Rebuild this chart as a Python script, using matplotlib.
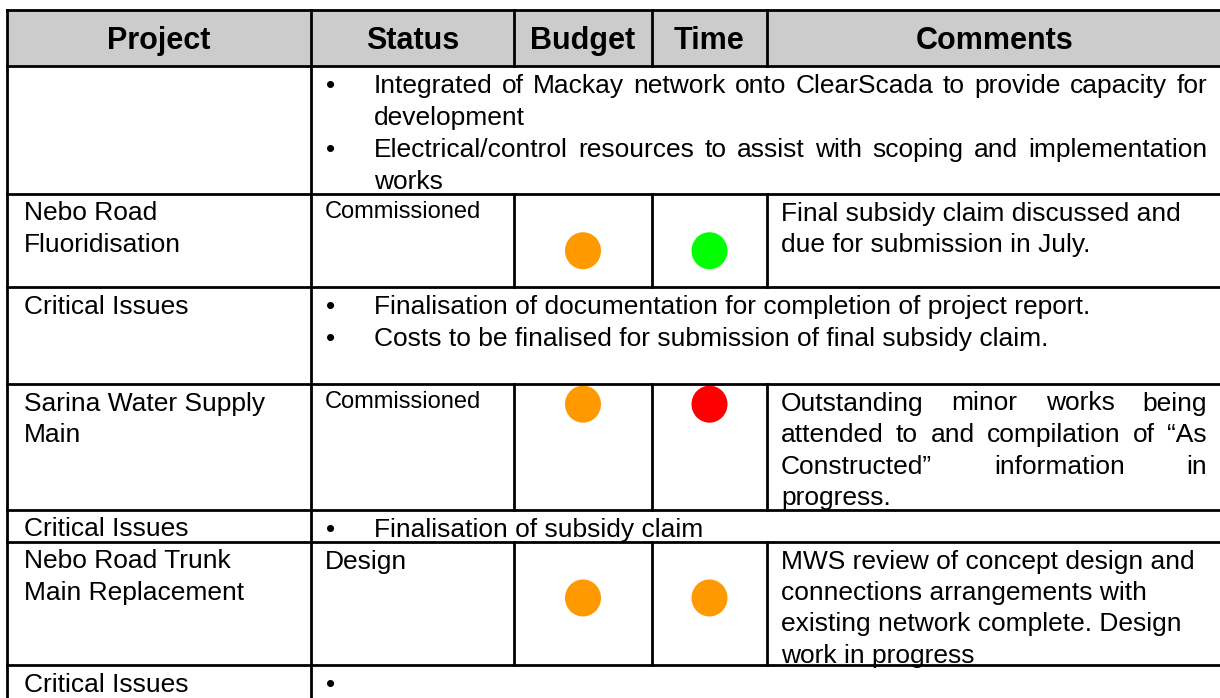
import matplotlib.pyplot as plt
from matplotlib.patches import Rectangle, Ellipse

plt.rcParams['font.family'] = ['Liberation Sans', 'DejaVu Sans']

# table content
headers = ["Project", "Status", "Budget", "Time", "Comments"]
projects = ["", "Nebo Road\nFluoridisation", "Critical Issues",
            "Sarina Water Supply\nMain", "Critical Issues",
            "Nebo Road Trunk\nMain Replacement", "Critical Issues"]
status = [None, "Commissioned", None, "Commissioned", None, "Design", None]
budget = [None, "orange", None, "orange", None, "orange", None]
time = [None, "green", None, "red", None, "orange", None]
comments = [
    None,
    ["Final subsidy claim discussed and", "due for submission in July."],
    None,
    ["Outstanding minor works being", "attended to and compilation of \u201cAs",
     "Constructed\u201d information in", "progress."],
    None,
    ["MWS review of concept design and", "connections arrangements with",
     "existing network complete. Design", "work in progress"],
    None,
]
bullets = [
    [["Integrated of Mackay network onto ClearScada to provide capacity for", "development"],
     ["Electrical/control resources to assist with scoping and implementation", "works"]],
    None,
    [["Finalisation of documentation for completion of project report."],
     ["Costs to be finalised for submission of final subsidy claim."]],
    None,
    [["Finalisation of subsidy claim"]],
    None,
    [[""]],
]
justify_comments = [False, False, False, True, False, False, False]

# layout (pixels)
col_x = [7, 311, 514, 652, 767, 1223]
row_y = [10, 66, 194, 287, 384, 510, 542, 665, 740]
dot_pos = [None, 0.61, None, 0.16, None, 0.455, None]
dot_colors = {"orange": "#FF9900", "green": "#00FF00", "red": "#FF0000"}
body = 19
line_h = 31.5
lw = 2.0

fig = plt.figure(figsize=(12.2, 6.98), dpi=100)
ax = fig.add_axes([0, 0, 1, 1])
ax.set_xlim(0, 1220)
ax.set_ylim(698, 0)
ax.axis('off')
renderer = fig.canvas.get_renderer()


def put_line(x0, x1, y, text, size=body, justify=False):
    if not justify or ' ' not in text:
        ax.text(x0, y, text, fontsize=size, va='baseline', ha='left')
        return
    words = text.split()
    objs = [ax.text(x0, y, w, fontsize=size, va='baseline', ha='left') for w in words]
    widths = [o.get_window_extent(renderer).width for o in objs]
    gap = (x1 - x0 - sum(widths)) / (len(words) - 1)
    x = x0
    for o, w in zip(objs, widths):
        o.set_x(x)
        x += w + gap


# header
ax.add_patch(Rectangle((col_x[0], row_y[0]), col_x[-1] - col_x[0], row_y[1] - row_y[0],
                       facecolor='#CCCCCC', edgecolor='none'))
for i, h in enumerate(headers):
    ax.text((col_x[i] + col_x[i + 1]) / 2, row_y[0] + 39, h, fontsize=22,
            fontweight='bold', ha='center', va='baseline')

for r in range(len(projects)):
    top = row_y[r + 1]
    bot = row_y[r + 2]
    for k, ln in enumerate(projects[r].split('\n')):
        put_line(24, 300, top + 26.5 + k * line_h, ln)
    if bullets[r] is not None:
        n = 0
        for para in bullets[r]:
            ax.text(331, top + 27 + n * 32, "\u2022", fontsize=body, ha='center', va='baseline')
            for j, ln in enumerate(para):
                last = j == len(para) - 1
                put_line(374, 1207, top + 27 + n * 32, ln, justify=not last)
                n += 1
    else:
        st = status[r]
        size = 17 if st == "Commissioned" else body
        ax.text(325, top + (23.5 if size == 17 else 26.5), st, fontsize=size, va='baseline')
        cy = top + dot_pos[r] * (bot - top)
        for c, key in ((2, budget[r]), (3, time[r])):
            cx = (col_x[c] + col_x[c + 1]) / 2
            ax.add_patch(Ellipse((cx, cy), 36, 37, facecolor=dot_colors[key], edgecolor='none'))
        lines = comments[r]
        for k, ln in enumerate(lines):
            last = k == len(lines) - 1
            put_line(781, 1207, top + 26.5 + k * line_h, ln,
                     justify=justify_comments[r] and not last)

# grid lines
for y in row_y[:-1]:
    ax.plot([col_x[0], col_x[-1]], [y, y], color='black', lw=lw, solid_capstyle='projecting')
ax.plot([col_x[0], col_x[0]], [row_y[0], row_y[-1]], color='black', lw=lw)
ax.plot([col_x[1], col_x[1]], [row_y[0], row_y[-1]], color='black', lw=lw)
ax.plot([col_x[-1], col_x[-1]], [row_y[0], row_y[-1]], color='black', lw=lw)
for c in (2, 3, 4):
    ax.plot([col_x[c], col_x[c]], [row_y[0], row_y[1]], color='black', lw=lw)
    for r in range(len(projects)):
        if bullets[r] is None:
            ax.plot([col_x[c], col_x[c]], [row_y[r + 1], row_y[r + 2]], color='black', lw=lw)

fig.savefig('out.png', dpi=100)
